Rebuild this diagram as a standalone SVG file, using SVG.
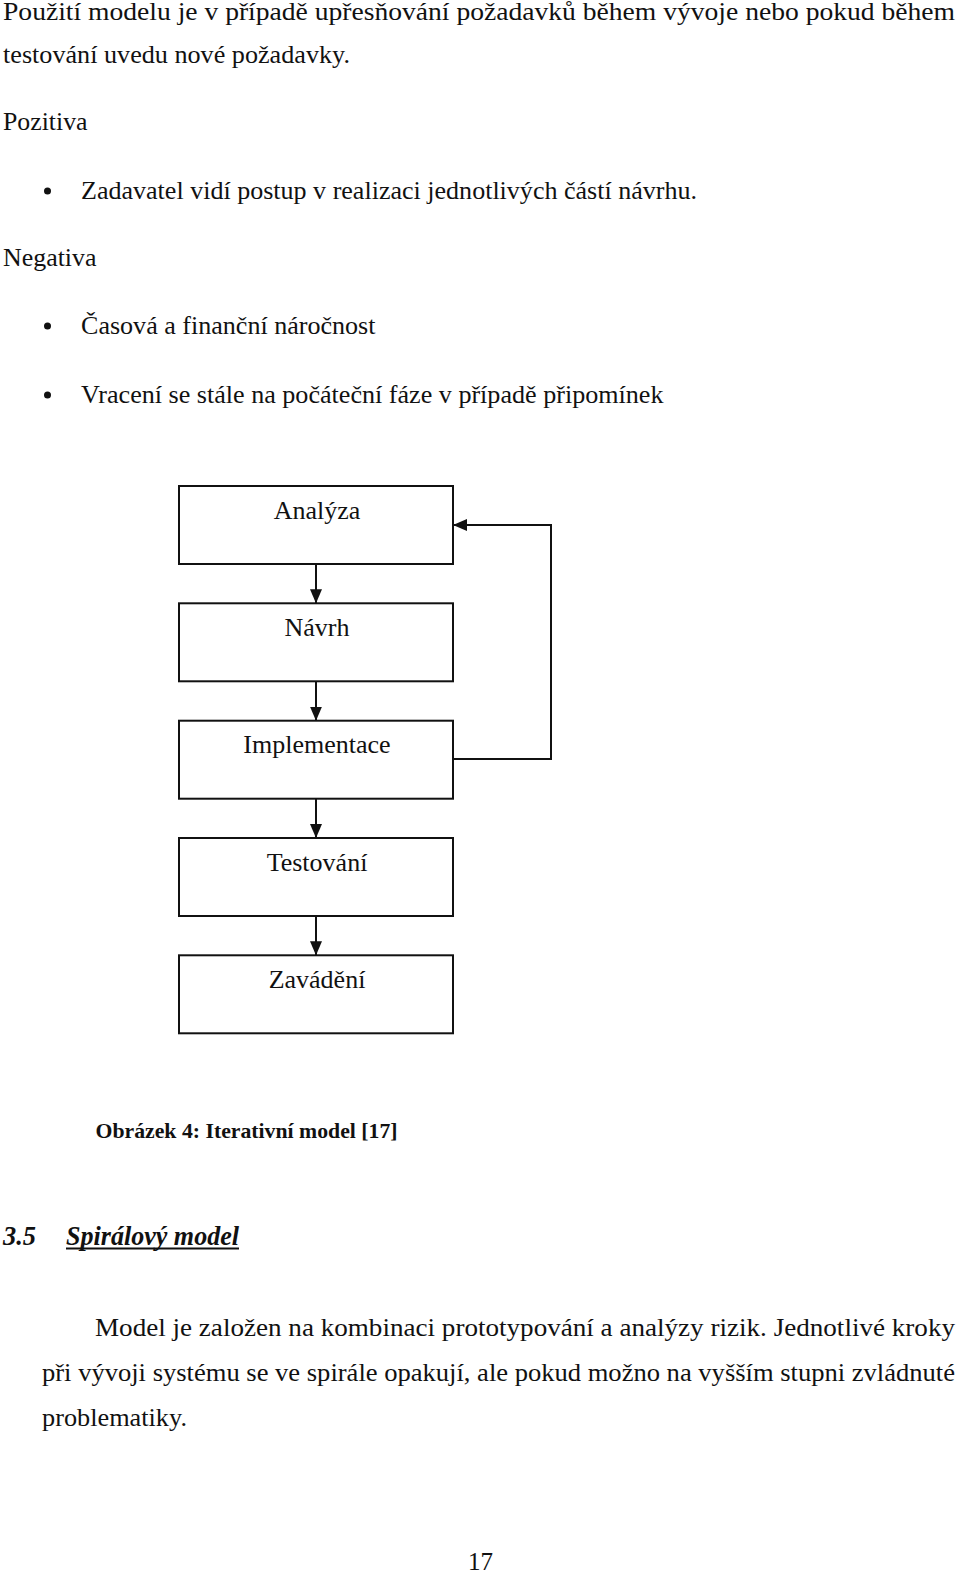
<svg xmlns="http://www.w3.org/2000/svg" width="960" height="1574" viewBox="0 0 960 1574">
<style>
.b{font-family:"Liberation Serif","Times New Roman",serif;font-size:25px;fill:#111}
.n{font-family:"Liberation Serif","Times New Roman",serif;font-size:26px;fill:#111;text-anchor:middle}
.cap{font-family:"Liberation Serif","Times New Roman",serif;font-size:22px;font-weight:bold;fill:#111}
.h{font-family:"Liberation Serif","Times New Roman",serif;font-size:27px;font-weight:bold;font-style:italic;fill:#111}
.box{fill:#fff;stroke:#111;stroke-width:2}
.ln{fill:none;stroke:#111;stroke-width:2}
</style>
<defs>
<marker id="ah" viewBox="0 0 14 12" refX="14" refY="6" markerWidth="14" markerHeight="12" markerUnits="userSpaceOnUse" orient="auto">
<path d="M0,0 L14,6 L0,12 Z" fill="#111"/>
</marker>
</defs>
<g id="text">
<text class="b" x="3" y="20" textLength="952" lengthAdjust="spacingAndGlyphs">Použití modelu je v případě upřesňování požadavků během vývoje nebo pokud během</text>
<text class="b" x="3" y="63" textLength="347" lengthAdjust="spacingAndGlyphs">testování uvedu nové požadavky.</text>
<text class="b" x="3" y="130" textLength="84.5" lengthAdjust="spacingAndGlyphs">Pozitiva</text>
<circle cx="47.5" cy="191" r="3.5" fill="#111"/>
<text class="b" x="81" y="199" textLength="616" lengthAdjust="spacingAndGlyphs">Zadavatel vidí postup v realizaci jednotlivých částí návrhu.</text>
<text class="b" x="3" y="266" textLength="93.5" lengthAdjust="spacingAndGlyphs">Negativa</text>
<circle cx="47.5" cy="326" r="3.5" fill="#111"/>
<text class="b" x="81" y="334" textLength="294.5" lengthAdjust="spacingAndGlyphs">Časová a finanční náročnost</text>
<circle cx="47.5" cy="395" r="3.5" fill="#111"/>
<text class="b" x="81" y="403" textLength="582.5" lengthAdjust="spacingAndGlyphs">Vracení se stále na počáteční fáze v případě připomínek</text>
<text class="cap" x="95.5" y="1138" textLength="302" lengthAdjust="spacingAndGlyphs">Obrázek 4: Iterativní model [17]</text>
<text class="h" x="3" y="1245" textLength="33" lengthAdjust="spacingAndGlyphs">3.5</text>
<text class="h" x="66" y="1245" textLength="173" lengthAdjust="spacingAndGlyphs">Spirálový model</text>
<line x1="66" y1="1248.5" x2="239" y2="1248.5" stroke="#111" stroke-width="2"/>
<text class="b" x="95" y="1336" textLength="860" lengthAdjust="spacingAndGlyphs">Model je založen na kombinaci prototypování a analýzy rizik. Jednotlivé kroky</text>
<text class="b" x="42" y="1381" textLength="913" lengthAdjust="spacingAndGlyphs">při vývoji systému se ve spirále opakují, ale pokud možno na vyšším stupni zvládnuté</text>
<text class="b" x="42" y="1426" textLength="145" lengthAdjust="spacingAndGlyphs">problematiky.</text>
<text class="b" x="468" y="1570" textLength="25" lengthAdjust="spacingAndGlyphs">17</text>
</g>
<g id="connectors">
<line class="ln" x1="316" y1="564" x2="316" y2="603.3" marker-end="url(#ah)"/>
<line class="ln" x1="316" y1="681.3" x2="316" y2="720.7" marker-end="url(#ah)"/>
<line class="ln" x1="316" y1="798.7" x2="316" y2="838" marker-end="url(#ah)"/>
<line class="ln" x1="316" y1="916" x2="316" y2="955.3" marker-end="url(#ah)"/>
<polyline class="ln" points="453,759 551,759 551,525 453,525" marker-end="url(#ah)"/>
</g>
<g id="analyza"><rect class="box" x="179" y="486" width="274" height="78"/><text class="n" x="317" y="518.5">Analýza</text></g>
<g id="navrh"><rect class="box" x="179" y="603.3" width="274" height="78"/><text class="n" x="317" y="635.8">Návrh</text></g>
<g id="implementace"><rect class="box" x="179" y="720.7" width="274" height="78"/><text class="n" x="317" y="753.2">Implementace</text></g>
<g id="testovani"><rect class="box" x="179" y="838" width="274" height="78"/><text class="n" x="317" y="870.5">Testování</text></g>
<g id="zavadeni"><rect class="box" x="179" y="955.3" width="274" height="78"/><text class="n" x="317" y="987.8">Zavádění</text></g>
</svg>
